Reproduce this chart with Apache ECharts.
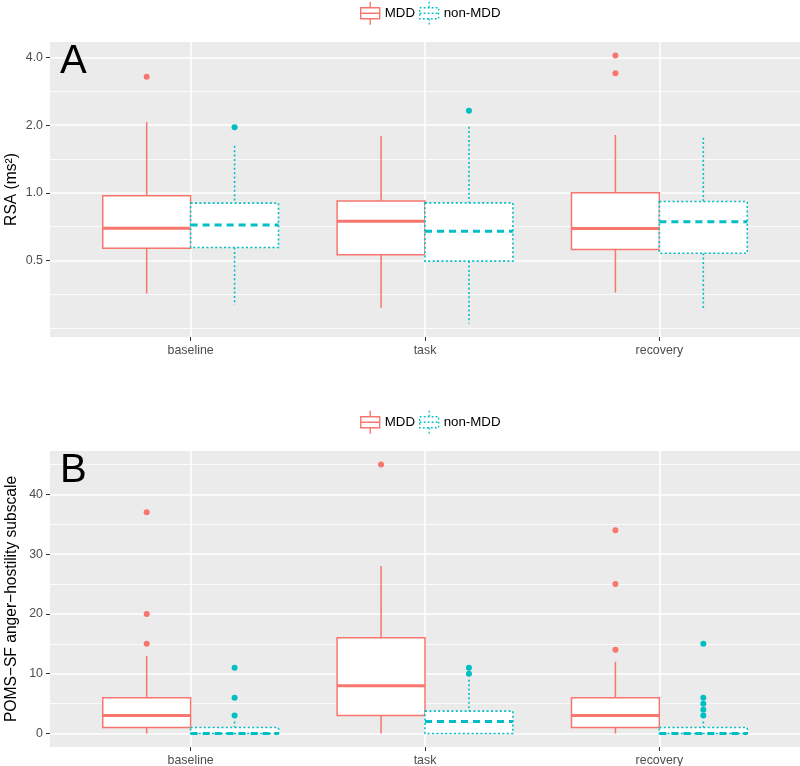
<!DOCTYPE html>
<html><head><meta charset="utf-8">
<script src="https://cdn.jsdelivr.net/npm/echarts@6/dist/echarts.min.js"></script>
<style>html,body{margin:0;padding:0;background:#fff}#c{width:800px;height:766px}</style>
</head><body><div id="c"></div>
<script>
const categories = ['baseline', 'task', 'recovery'];
const groups = ['MDD', 'non-MDD'];

// Panel A — RSA (ms²): [lower whisker, Q1, median, Q3, upper whisker] per category
const rsaMDD    = [[0.357, 0.567, 0.696, 0.970, 2.07], [0.308, 0.530, 0.748, 0.921, 1.79], [0.360, 0.560, 0.694, 1.000, 1.81]];
const rsaNonMDD = [[0.317, 0.571, 0.720, 0.900, 1.62], [0.262, 0.497, 0.675, 0.903, 1.97], [0.301, 0.539, 0.743, 0.915, 1.76]];
const rsaOutMDD    = [[3.29], [], [4.09, 3.41]];
const rsaOutNonMDD = [[1.96], [2.32], []];
const rsaTicks = [0.5, 1, 2, 4];
const rsaMinorTicks = [0.25, 0.3536, 0.7071, 1.4142, 2.8284];

// Panel B — POMS-SF anger-hostility subscale
const pomsMDD    = [[0, 1, 3, 6, 13], [0, 3, 8, 16, 28], [0, 1, 3, 6, 12]];
const pomsNonMDD = [[0, 0, 0, 1, 2], [0, 0, 2, 3.75, 9], [0, 0, 0, 1, 2]];
const pomsOutMDD    = [[37, 20, 15], [45], [34, 25, 14]];
const pomsOutNonMDD = [[11, 6, 3], [11, 10], [15, 6, 5, 4, 3]];
const pomsTicks = [0, 10, 20, 30, 40];
const pomsMinorTicks = [5, 15, 25, 35, 45];

const FONT = '"Liberation Sans", Arial, Helvetica, sans-serif';
const COLORS = { 'MDD': '#F8766D', 'non-MDD': '#00BFC4' };
const HALF = 0.1875;
const ident = v => v;
const log2 = v => Math.log2(v);

function boxSeries(name, rows, g, tf) {
  const dotted = name !== 'MDD';
  const off = dotted ? HALF : -HALF;
  const color = COLORS[name];
  return {
    type: 'custom', name, xAxisIndex: g, yAxisIndex: g * 2, clip: true, z: 2,
    encode: { x: 0, y: [1, 2, 3, 4, 5] },
    data: rows.map((r, i) => [i + 1].concat(r.map(tf))),
    renderItem(params, api) {
      const x = api.value(0) + off;
      const p = k => api.coord([x, api.value(k)]);
      const lo = p(1), q1 = p(2), md = p(3), q3 = p(4), hi = p(5);
      const hw = api.size([HALF, 0])[0];
      const cx = lo[0];
      const dash = dotted ? [2, 2.4] : undefined;
      const st = () => ({ stroke: color, lineWidth: dotted ? 1.6 : 1.5, lineDash: dash, fill: null });
      return {
        type: 'group', children: [
          { type: 'line', shape: { x1: cx, y1: hi[1], x2: cx, y2: q3[1] }, style: st() },
          { type: 'line', shape: { x1: cx, y1: q1[1], x2: cx, y2: lo[1] }, style: st() },
          { type: 'rect', shape: { x: cx - hw, y: q3[1], width: 2 * hw, height: q1[1] - q3[1] }, style: Object.assign(st(), { fill: '#fff' }) },
          { type: 'line', shape: { x1: cx - hw, y1: md[1], x2: cx + hw, y2: md[1] }, style: { stroke: color, lineWidth: 3, lineDash: dotted ? [7, 5] : undefined } }
        ]
      };
    }
  };
}

function outlierSeries(name, lists, g, tf) {
  const off = name === 'MDD' ? -HALF : HALF;
  const data = [];
  lists.forEach((vals, i) => vals.forEach(v => data.push([i + 1, tf(v)])));
  return {
    type: 'custom', name, xAxisIndex: g, yAxisIndex: g * 2, clip: true, z: 3,
    encode: { x: 0, y: 1 }, data,
    renderItem(params, api) {
      const c = api.coord([api.value(0) + off, api.value(1)]);
      return { type: 'circle', shape: { cx: c[0], cy: c[1], r: 3 }, style: { fill: COLORS[name] } };
    }
  };
}

function extent(arrs, tf) {
  const all = [];
  arrs.forEach(a => a.forEach(r => r.forEach(v => all.push(tf(v)))));
  const mn = Math.min(...all), mx = Math.max(...all), pad = (mx - mn) * 0.05;
  return [mn - pad, mx + pad];
}

const labelStyle = { color: '#4D4D4D', fontSize: 12.4, fontFamily: FONT };
const tickStyle = { show: true, length: 4, inside: false, lineStyle: { color: '#333333', width: 1 } };

function xAxis(g) {
  return {
    type: 'value', gridIndex: g, min: 0.4, max: 3.6,
    axisLine: { show: false, onZero: false },
    axisTick: Object.assign({ customValues: [1, 2, 3] }, tickStyle),
    axisLabel: Object.assign({ customValues: [1, 2, 3], margin: 8, formatter: v => categories[Math.round(v) - 1] }, labelStyle),
    splitLine: { show: true, lineStyle: { color: '#ffffff', width: 1.5 } }
  };
}
function yAxes(g, ext, ticks, minor, name, fmt) {
  return [{
    type: 'value', gridIndex: g, min: ext[0], max: ext[1], position: 'left',
    name, nameLocation: 'middle', nameGap: 30, nameMoveOverlap: false,
    nameTextStyle: { color: '#000', fontSize: 15.6, fontFamily: FONT },
    axisLine: { show: false, onZero: false },
    axisTick: Object.assign({ customValues: ticks }, tickStyle),
    axisLabel: Object.assign({ customValues: ticks, margin: 7, formatter: fmt }, labelStyle),
    splitLine: { show: true, lineStyle: { color: '#ffffff', width: 1.5 } }
  }, {
    type: 'value', gridIndex: g, min: ext[0], max: ext[1], position: 'left',
    axisLine: { show: false, onZero: false },
    axisTick: { show: false, customValues: minor },
    axisLabel: { show: false },
    splitLine: { show: true, lineStyle: { color: '#ffffff', width: 0.8 } }
  }];
}

const boxIcon = 'path://M0,6H19V17H0Z M0,11.5H19 M9.5,0V6 M9.5,17V23';
function legend(top) {
  return {
    top, left: 360, padding: 0, orient: 'horizontal', itemWidth: 19, itemHeight: 23, itemGap: 4,
    selectedMode: false,
    textStyle: { color: '#000', fontSize: 13.3, fontFamily: FONT },
    data: [
      { name: 'MDD', icon: boxIcon, itemStyle: { color: '#fff', borderColor: COLORS['MDD'], borderWidth: 1.4 } },
      { name: 'non-MDD', icon: boxIcon, itemStyle: { color: '#fff', borderColor: COLORS['non-MDD'], borderWidth: 1.4, borderType: [1.8, 2.2] } }
    ]
  };
}

const extA = extent([rsaMDD, rsaNonMDD, rsaOutMDD, rsaOutNonMDD], log2);
const extB = extent([pomsMDD, pomsNonMDD, pomsOutMDD, pomsOutNonMDD], ident);

const option = {
  animation: false,
  backgroundColor: '#ffffff',
  title: [
    { text: 'A', left: 60, top: 42, padding: 0, textStyle: { fontSize: 40, fontWeight: 'normal', color: '#000', fontFamily: FONT } },
    { text: 'B', left: 60, top: 451, padding: 0, textStyle: { fontSize: 40, fontWeight: 'normal', color: '#000', fontFamily: FONT } }
  ],
  legend: [legend(1), legend(410)],
  grid: [
    { left: 50, right: 0, top: 42, height: 295, show: true, backgroundColor: '#EBEBEB', borderWidth: 0, containLabel: false, outerBoundsMode: 'none' },
    { left: 50, right: 0, top: 451, height: 296, show: true, backgroundColor: '#EBEBEB', borderWidth: 0, containLabel: false, outerBoundsMode: 'none' }
  ],
  xAxis: [xAxis(0), xAxis(1)],
  yAxis: yAxes(0, extA, rsaTicks.map(log2), rsaMinorTicks.map(log2), 'RSA (ms²)', v => Math.pow(2, v).toFixed(1))
    .concat(yAxes(1, extB, pomsTicks, pomsMinorTicks, 'POMS−SF anger−hostility subscale', v => String(Math.round(v)))),
  series: [
    boxSeries('MDD', rsaMDD, 0, log2),
    boxSeries('non-MDD', rsaNonMDD, 0, log2),
    outlierSeries('MDD', rsaOutMDD, 0, log2),
    outlierSeries('non-MDD', rsaOutNonMDD, 0, log2),
    boxSeries('MDD', pomsMDD, 1, ident),
    boxSeries('non-MDD', pomsNonMDD, 1, ident),
    outlierSeries('MDD', pomsOutMDD, 1, ident),
    outlierSeries('non-MDD', pomsOutNonMDD, 1, ident)
  ]
};
const chart = echarts.init(document.getElementById('c'), null, { renderer: 'canvas' });
chart.setOption(option);
</script></body></html>
